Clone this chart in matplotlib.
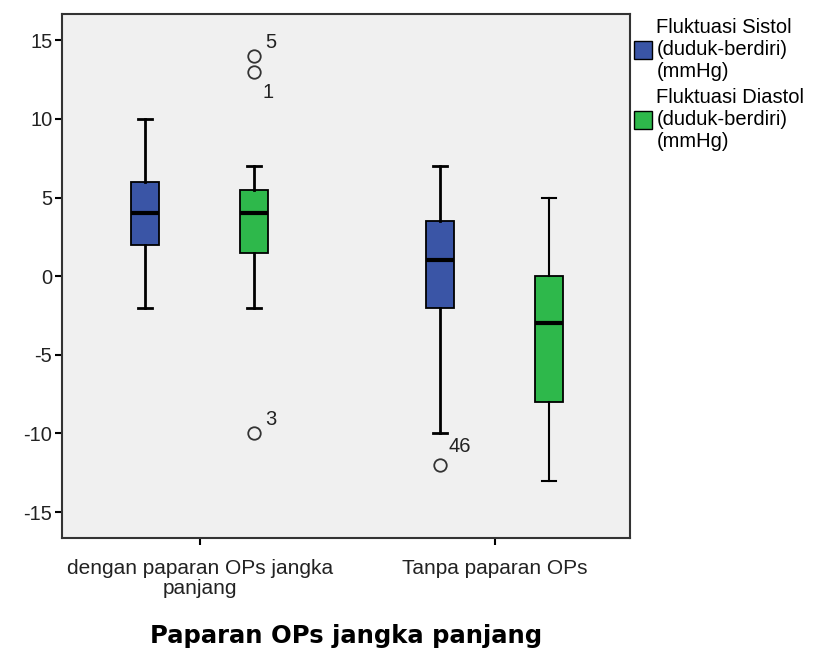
import matplotlib
matplotlib.use("Agg")
import matplotlib.pyplot as plt
from matplotlib.patches import Patch

plt.rcParams["font.family"] = ["Liberation Sans", "DejaVu Sans"]
plt.rcParams["axes.unicode_minus"] = False

# data
groups = ["dengan paparan OPs jangka\npanjang", "Tanpa paparan OPs"]
series = ["Fluktuasi Sistol\n(duduk-berdiri)\n(mmHg)", "Fluktuasi Diastol\n(duduk-berdiri)\n(mmHg)"]
colors = ["#3a55a6", "#2eb84b"]

# per group: [sistol, diastol]
q1 = [[2, 1.5], [-2, -8]]
med = [[4, 4], [1, -3]]
q3 = [[6, 5.5], [3.5, 0]]
whislo = [[-2, -2], [-10, -13]]
whishi = [[10, 7], [7, 5]]
fliers = [[[], [14, 13, -10]], [[-12], []]]
flier_ids = [[[], ["5", "1", "3"]], [["46"], []]]

# label offsets (points) for the case ids, style only
id_offsets = {"5": (8, 6), "1": (6, -19), "3": (8, 6), "46": (6, 9.5)}

fig = plt.figure(figsize=(8.13, 6.49), dpi=100)
ax = fig.add_axes([0.0763, 0.171, 0.699, 0.807])
ax.set_facecolor("#f0f0f0")

offset = 0.185
width = 0.095
for g in range(len(groups)):
    for s in range(len(series)):
        pos = g + (s - 0.5) * 2 * offset
        stats = [{"med": med[g][s], "q1": q1[g][s], "q3": q3[g][s],
                  "whislo": whislo[g][s], "whishi": whishi[g][s],
                  "fliers": fliers[g][s]}]
        lw = 1.5 if (g == 1 and s == 1) else 2.0
        ax.bxp(stats, positions=[pos], widths=width, patch_artist=True,
               boxprops=dict(facecolor=colors[s], edgecolor="black", linewidth=1.3),
               medianprops=dict(color="black", linewidth=3),
               whiskerprops=dict(color="black", linewidth=lw),
               capprops=dict(color="black", linewidth=lw),
               capwidths=width * 0.5,
               flierprops=dict(marker="o", markerfacecolor="none",
                               markeredgecolor="#333333", markersize=9,
                               markeredgewidth=1.3))
        for v, lab in zip(fliers[g][s], flier_ids[g][s]):
            ax.annotate(lab, (pos, v), xytext=id_offsets[lab], textcoords="offset points",
                        fontsize=14.5, color="#222222", ha="left", va="baseline")

ax.set_xlim(-0.466, 1.459)
ax.set_ylim(-16.65, 16.65)
ax.set_yticks([-15, -10, -5, 0, 5, 10, 15])
ax.set_xticks([0, 1])
ax.set_xticklabels(groups, fontsize=15, color="#222222", linespacing=1.1)
ax.tick_params(axis="x", length=5, width=1.5, pad=10)
ax.tick_params(axis="y", length=5, width=1.5, labelsize=14.5, labelcolor="#222222", pad=2)
for sp in ax.spines.values():
    sp.set_linewidth(1.5)
    sp.set_color("#333333")
ax.set_xlabel("Paparan OPs jangka panjang", fontsize=17.5, fontweight="bold",
              family="DejaVu Sans", va="center")
ax.xaxis.set_label_coords(0.5, -0.188)

handles = [Patch(facecolor=c, edgecolor="black", linewidth=1) for c in colors]
ax.legend(handles, series, loc="upper left", bbox_to_anchor=(1.0, 1.0),
          frameon=False, fontsize=14.5, handlelength=0.9, handleheight=1.0,
          handletextpad=0.2, borderaxespad=0.0, labelspacing=0.35,
          borderpad=0.2)

fig.savefig("out.png", dpi=100, facecolor="white")
